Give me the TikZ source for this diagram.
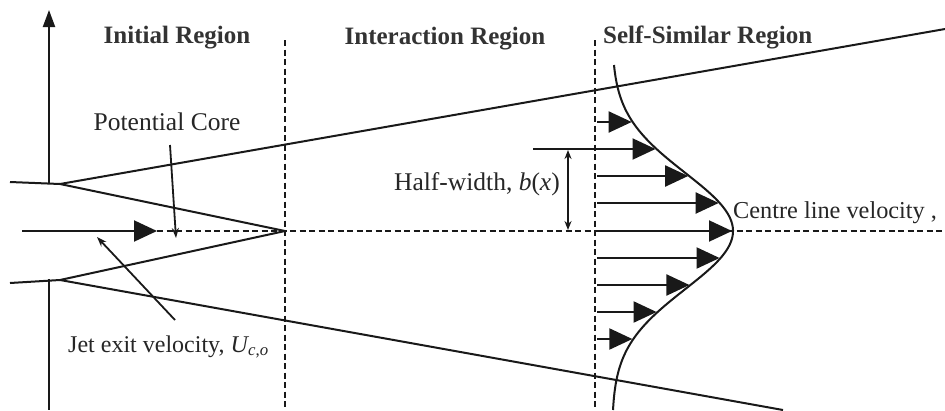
\documentclass[tikz,border=0pt]{standalone}
\usepackage{fontspec}
\setmainfont{Liberation Serif}
\usetikzlibrary{arrows.meta}
\begin{document}
\begin{tikzpicture}[x=1pt,y=-1pt,
  line/.style={line width=2pt, black!90},
  dline/.style={line width=2.2pt, black!90, dash pattern=on 6pt off 3.5pt},
  bigtip/.style={-{Triangle[length=23pt,width=21pt]}},
  smalltip/.style={-{Stealth[length=10pt,width=7pt]}},
  lbl/.style={font=\fontsize{25.5}{30}\selectfont, inner sep=0pt, text=black!85},
  blbl/.style={font=\fontsize{25}{30}\selectfont\bfseries, inner sep=0pt, text=black!80}
]
\useasboundingbox (0,0) rectangle (945,410);
\fill[white] (0,0) rectangle (945,410);
\clip (0,0) rectangle (945,410);

% geometry coordinates
\coordinate (lipUl) at (10,182);
\coordinate (lipU) at (60,184);
\coordinate (lipLl) at (10,283);
\coordinate (lipL) at (60,280);
\coordinate (outU) at (945,29);
\coordinate (outL) at (783,410);
\coordinate (apex) at (285,231);
\coordinate (axU) at (49,184);
\coordinate (axTop) at (49,10);
\coordinate (axL) at (49,279);
\coordinate (axBot) at (49,410);
\coordinate (clS) at (22,231);
\coordinate (clA) at (157,231);
\coordinate (clE) at (945,231);
\coordinate (d1t) at (285,40);
\coordinate (d1b) at (285,410);
\coordinate (d2t) at (595,40);
\coordinate (d2b) at (595,410);

% axis
\draw[line, -{Triangle[length=17pt,width=12pt]}] (axU) -- (axTop);
\draw[line] (axL) -- (axBot);

% nozzle lips and spreading lines
\draw[line] (lipUl) -- (lipU);
\draw[line] (lipLl) -- (lipL);
\draw[line] (lipU) -- (outU);
\draw[line] (lipL) -- (outL);
\draw[line] (lipU) -- (apex);
\draw[line] (lipL) -- (apex);

% region separators
\draw[dline] (d1t) -- (d1b);
\draw[dline] (d2t) -- (d2b);

% centre line
\draw[dline, line width=1.8pt] (clA) -- (clE);
\draw[line, bigtip] (clS) -- (clA);

% velocity profile
\draw[line] plot[variable=\t, domain=65:410, samples=120]
  ({612+121*exp(-((\t-231)/82)*((\t-231)/82))},\t);
\foreach \yy/\xs in {122/597,149/533,176/597,203/597,231/597,258/597,285/597,312/597,339/597}{
  \pgfmathsetmacro\tx{612+121*exp(-((\yy-231)/82)*((\yy-231)/82))-1}
  \coordinate (ps\yy) at (\xs,\yy);
  \coordinate (pt\yy) at (\tx,\yy);
  \draw[line, bigtip] (ps\yy) -- (pt\yy);
}

% half-width dimension
\coordinate (hwT) at (568,150);
\coordinate (hwB) at (568,230);
\draw[line width=1.6pt, black!90, {Stealth[length=9pt,width=7pt]}-{Stealth[length=9pt,width=7pt]}] (hwT) -- (hwB);

% labels
\node[blbl] (initial) at (177,38) {Initial Region};
\node[blbl] (interaction) at (445,39) {Interaction Region};
\node[blbl, anchor=west] (selfsim) at (603,37) {Self-Similar Region};
\node[lbl] (core) at (167,122) {Potential Core};
\node[lbl, anchor=west, font=\fontsize{24}{30}\selectfont] (jet) at (68,347) {Jet exit velocity, \textit{U}\kern-1pt\textsubscript{\textit{c},\textit{o}}};
\node[lbl, anchor=east] (half) at (560,184) {Half-width, \textit{b}(\textit{x})};
\node[lbl, anchor=west, font=\fontsize{24.3}{30}\selectfont] (centre) at (733,213) {Centre line velocity ,};

% pointer arrows
\coordinate (coreS) at (170,145);
\coordinate (coreT) at (176,238);
\coordinate (jetS) at (175,320);
\coordinate (jetT) at (97,237);
\draw[line width=1.8pt, black!90, smalltip] (coreS) -- (coreT);
\draw[line width=1.8pt, black!90, smalltip] (jetS) -- (jetT);
\end{tikzpicture}
\end{document}
